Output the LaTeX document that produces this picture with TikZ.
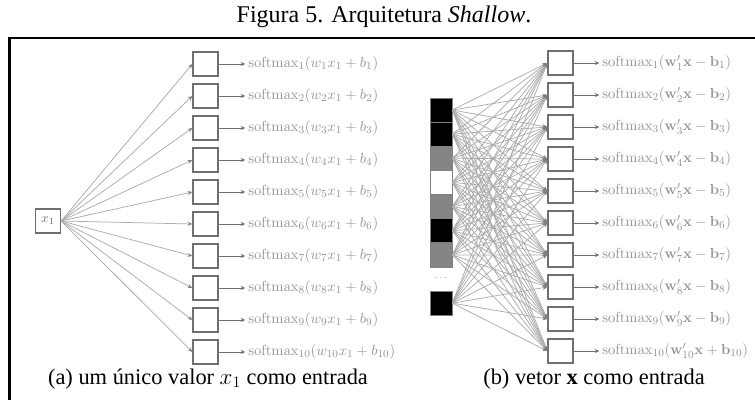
\documentclass[tikz,border=0pt]{standalone}
\usepackage[no-math]{fontspec}
\newfontfamily\timesfont{Liberation Serif}
\usetikzlibrary{arrows.meta}
\definecolor{lblgray}{HTML}{959595}
\definecolor{boxgray}{HTML}{707070}
\definecolor{linegray}{HTML}{ABABAB}
\definecolor{cellgray}{HTML}{858585}
\begin{document}
\begin{tikzpicture}[x=0.75pt,y=-0.75pt,
  unit/.style={draw=boxgray,line width=1pt,minimum width=18.75pt,minimum height=18pt,inner sep=0pt,fill=white},
  lbl/.style={anchor=west,text=lblgray,inner sep=0pt,font=\fontsize{11.4}{13}\selectfont},
  conn/.style={draw=linegray,line width=0.55pt,-{Stealth[length=3.5pt,width=3pt,color=gray]}},
  outarr/.style={draw=boxgray,line width=0.5pt,shorten >=2pt,-{Stealth[length=3.5pt,width=3pt]}},
  cell/.style={draw=gray,line width=0.4pt,minimum width=16.5pt,minimum height=18pt,inner sep=0pt},
  captext/.style={font=\timesfont\fontsize{16.8}{19}\selectfont,inner sep=0pt},
]
\useasboundingbox (0,0) rectangle (755,399);
\fill[white] (0,0) rectangle (755,399);
% title
\node[font=\timesfont\fontsize{18}{20}\selectfont,inner sep=0pt] (title) at (384,17) {Figura 5. Arquitetura \textit{Shallow}.};
% frame
\draw[line width=2pt] (760,38) -- (9.5,38) -- (9.5,405);
% ---------- left panel ----------
\node[unit,text=boxgray,font=\fontsize{10}{12}\selectfont] (x1) at (48,221) {$x_1$};
\foreach \k in {1,...,10} {
  \node[unit] (a\k) at (205.5,{64+32*(\k-1)}) {};
  \node[lbl] (la\k) at (248,{64+32*(\k-1)}) {$\mathrm{softmax}_{\k}(w_{\k}x_1+b_{\k})$};
  \draw[outarr] (a\k.east) -- (la\k.west);
  \draw[conn] (x1.east) -- (a\k.west);
}
\node[captext] (capa) at (208,379) {(a) um único valor $x_1$ como entrada};
% ---------- right panel ----------
\foreach \k in {1,...,10} {
  \node[unit] (b\k) at (560.5,{63+32*(\k-1)}) {};
}
\foreach \i/\c in {1/black,2/black,3/cellgray,4/white,5/cellgray,6/black,7/cellgray,9/black} {
  \node[cell,fill=\c] (c\i) at (441,{110+24.15*(\i-1)}) {};
}
\node[text=gray,inner sep=0pt,font=\scriptsize] (dots) at (441,278) {$\cdots$};
\foreach \i in {1,...,7,9} {
  \foreach \k in {1,...,10} {
    \draw[conn] (c\i.east) -- (b\k.west);
  }
}
\foreach \k in {1,...,9} {
  \node[lbl] (lb\k) at (602,{63+32*(\k-1)}) {$\mathrm{softmax}_{\k}(\mathbf{w}'_{\k}\mathbf{x}-\mathbf{b}_{\k})$};
  \draw[outarr] (b\k.east) -- (lb\k.west);
}
\node[lbl] (lb10) at (602,351) {$\mathrm{softmax}_{10}(\mathbf{w}'_{10}\mathbf{x}+\mathbf{b}_{10})$};
\draw[outarr] (b10.east) -- (lb10.west);
\node[captext] (capb) at (594,379) {(b) vetor \textbf{x} como entrada};
\end{tikzpicture}
\end{document}
